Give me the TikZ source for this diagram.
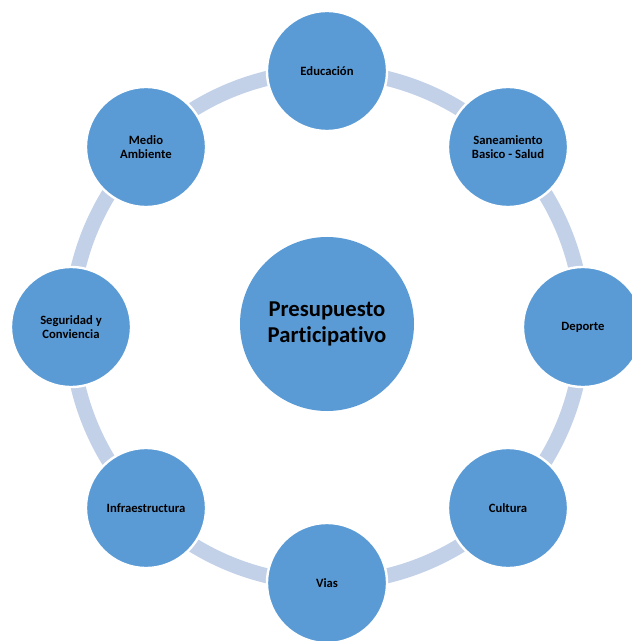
\documentclass[tikz,border=0pt]{standalone}
\usepackage{fontspec}
\setmainfont{Carlito}[Ligatures=NoCommon]
\usepackage{tikz}
\usetikzlibrary{backgrounds}
\definecolor{topicblue}{RGB}{91,155,213}
\definecolor{ringblue}{RGB}{194,209,232}

\begin{document}
\begin{tikzpicture}[x=0.75pt,y=-0.75pt,
	topic/.style={circle,draw=white,line width=1.8pt,fill=topicblue,minimum size=90pt,inner sep=0pt,align=center,font=\fontsize{9.5}{11}\selectfont\bfseries},
	hub/.style={circle,fill=topicblue,minimum size=130.5pt,inner sep=0pt,align=center,font=\fontsize{17}{19.5}\selectfont\bfseries},
	ring/.style={ringblue,line width=11.25pt}]
			\useasboundingbox (0,0) rectangle (631,641);
			\node [hub] (pres) at (327,324) {Presupuesto\\Participativo};
			\node [topic] (edu) at (327,71) {Educación};
			\node [topic] (san) at (508,147) {Saneamiento\\Basico - Salud};
			\node [topic] (dep) at (583,327) {Deporte};
			\node [topic] (cul) at (508,508) {Cultura};
			\node [topic] (vias) at (327,583) {Vias};
			\node [topic] (infra) at (146,508) {Infraestructura};
			\node [topic] (seg) at (71,327) {Seguridad y\\Conviencia};
			\node [topic] (medio) at (146,147) {Medio\\Ambiente};
			\begin{scope}[on background layer]
				\foreach \from/\to in {edu/san, san/dep, dep/cul, cul/vias, vias/infra, infra/seg, seg/medio, medio/edu}
					\draw [ring] (\from.center) to [bend left=22.5,looseness=.885] (\to.center);
			\end{scope}
		\end{tikzpicture}
\end{document}
